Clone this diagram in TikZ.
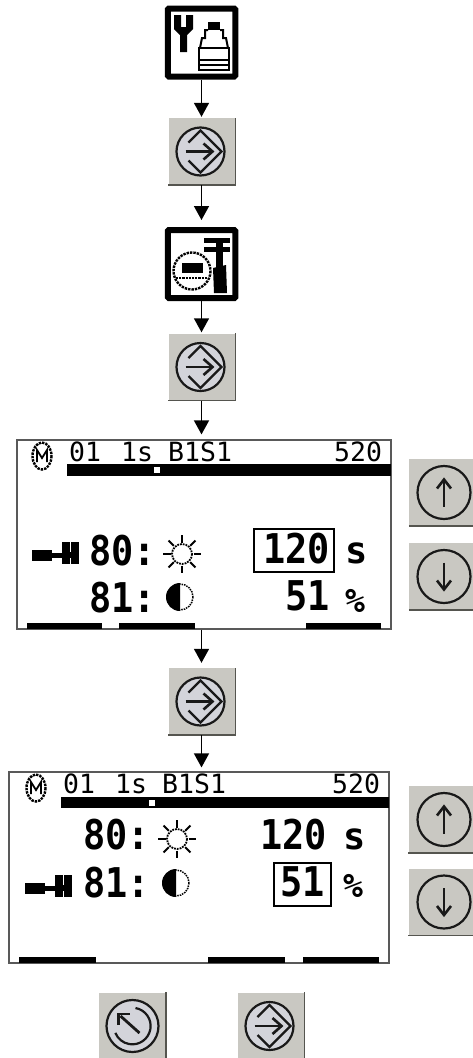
\documentclass[tikz,border=0pt]{standalone}
\usepackage{fontspec}
\setmonofont{DejaVu Sans Mono}
\newfontfamily\bigmono[FakeStretch=0.9]{DejaVu Sans Mono Bold}
\usetikzlibrary{arrows.meta,calc}
\definecolor{btnface}{HTML}{C9C8C2}
\definecolor{btninner}{HTML}{D3D4DA}
\definecolor{btnedge}{HTML}{55554F}
\tikzset{
  x=1pt,y=-1pt,
  conn/.style={line width=1.5pt,-{Triangle[length=14pt,width=15pt]}},
  iconbox/.style={draw=black,line width=6pt,rounded corners=1pt,fill=white,minimum width=67.5pt,minimum height=68pt,inner sep=0pt},
  btnbox/.style={fill=btnface,minimum width=67pt,minimum height=67pt,inner sep=0pt},
  screenbox/.style={draw=black!65,line width=1.2pt,fill=white,inner sep=0pt},
  small/.style={anchor=base west,inner sep=0pt,font=\ttfamily\fontsize{26.5}{26.5}\selectfont},
  big/.style={anchor=base west,inner sep=0pt,font=\bigmono\fontsize{41}{41}\selectfont},
  unitS/.style={anchor=base west,inner sep=0pt,font=\ttfamily\bfseries\fontsize{37}{37}\selectfont},
  unitP/.style={anchor=base west,inner sep=0pt,font=\ttfamily\bfseries\fontsize{33}{33}\selectfont},
  softkey/.style={fill=black},
  glyph/.style={draw=black!90,line width=2.2pt,fill=none},
  valbox/.style={draw=black,line width=1.6pt},
}
\newcommand{\btnshape}[3]{% name, x, y (centre)
  \node[btnbox] (#1) at (#2,#3) {};
  \draw[btnedge,line width=1.5pt] (#1.south west) -- (#1.south east) -- (#1.north east);
}
\newcommand{\enterbtn}[3]{%
  \btnshape{#1}{#2}{#3}
  \begin{scope}[shift={(#2-1.5,#3)}]
    \draw[glyph,fill=btninner] (0,0) circle (24);
    \draw[glyph] (-12,-9) -- (0,-21) -- (21,0) -- (0,21) -- (-12,9);
    \draw[glyph,line width=2.8pt] (-15,0) -- (11,0);
    \draw[glyph,line width=2.6pt] (3,-8) -- (12,0) -- (3,8);
  \end{scope}
}
\newcommand{\backbtn}[3]{%
  \btnshape{#1}{#2}{#3}
  \begin{scope}[shift={(#2,#3)}]
    \draw[glyph,fill=btninner] (0,0) circle (26);
    \draw[glyph] (3,-18) arc[start angle=-80,end angle=158,radius=18.3];
    \draw[glyph,line width=2.8pt] (7,7) -- (-12,-10);
    \draw[glyph,line width=2.6pt] (-14,-1) -- (-14,-12) -- (-3,-12);
  \end{scope}
}
\newcommand{\updownbtn}[5]{% name, x, y, circle x, sign
  \btnshape{#1}{#2}{#3}
  \begin{scope}[shift={(#4,#3)},yscale=#5]
    \draw[glyph,fill=btnface] (0,0) circle (26.5);
    \draw[glyph,line width=2.8pt] (0,14) -- (0,-12);
    \draw[glyph,line width=2.6pt] (-7,-4) -- (0,-13) -- (7,-4);
  \end{scope}
}
\newcommand{\sunicon}[2]{%
  \begin{scope}[shift={(#1,#2)}]
    \draw[line width=1.8pt,densely dotted] (0,0) circle (10);
    \foreach \a in {0,45,...,315} \draw[line width=1.9pt] (\a:11.5) -- (\a:19);
  \end{scope}
}
\newcommand{\moonicon}[2]{%
  \begin{scope}[shift={(#1,#2)}]
    \draw[line width=1.5pt,densely dotted] (0,0) circle (13);
    \fill (0,-14) arc[start angle=-90,end angle=-270,radius=14] -- cycle;
  \end{scope}
}
\newcommand{\probeicon}[2]{%
  \begin{scope}[shift={(#1,#2)}]
    \fill (0,-3) rectangle (20,8);
    \fill (20,0) rectangle (31,5);
    \fill (30,-11) rectangle (38,11);
    \fill (39,-11) rectangle (47,11);
    \fill (37,-1) rectangle (40,5);
  \end{scope}
}
\newcommand{\milkicon}[2]{%
  \begin{scope}[shift={(#1,#2)}]
    \draw[line width=2.4pt,densely dotted] (0,0) ellipse (9.5 and 13.5);
    \draw[line width=1.8pt] (-5,6) -- (-5,-6) -- (0,2) -- (5,-6) -- (5,6);
  \end{scope}
}
\begin{document}
\begin{tikzpicture}
\useasboundingbox (0,0) rectangle (472,1058);

% top icon
\node[iconbox] (icona) at (201.5,42.5) {};
\begin{scope}
  \fill (174,15) -- (181,15) -- (181,27) -- (186,27) -- (186,15) -- (193,15) -- (193,29) -- (187,35) -- (187,52) -- (180,52) -- (180,35) -- (174,29) -- cycle;
  \fill (208,22) rectangle (220,30);
  \draw[line width=2pt] (208,30) -- (205,30) -- (205,38) -- (202,38) -- (200,48);
  \draw[line width=2pt] (220,30) -- (223,30) -- (223,38) -- (226,38) -- (228,48);
  \draw[line width=2pt] (199,48) rectangle (229,70);
  \draw[line width=2pt] (199,60) -- (229,60);
  \draw[line width=2pt] (199,65) -- (229,65);
\end{scope}

\enterbtn{entera}{202}{151.5}

% second icon
\node[iconbox] (iconb) at (201.5,264) {};
\begin{scope}
  \draw[line width=2.4pt,densely dotted] (192,271) circle (18.5);
  \fill (182,263) rectangle (203,272.5);
  \draw[line width=2.2pt,densely dotted] (176,278) -- (208,278);
  \fill (204,238) rectangle (230,243);
  \fill (204,247) rectangle (230,252);
  \fill (216,243) rectangle (223,247);
  \fill (216,252) rectangle (223,268);
  \fill (213,268) -- (226,265) -- (227,293) -- (214,293) -- cycle;
\end{scope}

\enterbtn{enterb}{202}{367}

% first screen
\node[screenbox,minimum width=374pt,minimum height=189pt] (screena) at (204,534.5) {};
\fill (67,464) rectangle (391,476);
\fill[white] (154,467) rectangle (160,473);
\milkicon{42}{456}
\node[small] (a1) at (69,461.5) {01};
\node[small] (a2) at (121,461.5) {1s};
\node[small] (a3) at (168,461.5) {B1S1};
\node[small] (a4) at (334,461.5) {520};
\probeicon{32}{552.5}
\node[big] (a5) at (89,565) {80:};
\sunicon{182}{554}
\node[big] (a6) at (89,612) {81:};
\moonicon{180}{597}
\node[valbox,minimum width=80pt,minimum height=43pt,inner sep=0pt] (a7) at (294,550.5) {};
\node[big] (a8) at (263,563.5) {120};
\node[unitS] (a9) at (345,563) {s};
\node[big] (a10) at (285,610.5) {51};
\node[unitP] (a11) at (345,612) {\%};
\fill[softkey] (27,623) rectangle (102,629);
\fill[softkey] (119,623) rectangle (195,629);
\fill[softkey] (306,623) rectangle (381,629);

\updownbtn{upa}{442.5}{492.5}{444}{1}
\updownbtn{downa}{442.5}{576.5}{444}{-1}

\enterbtn{enterc}{202}{701.5}

% second screen
\node[screenbox,minimum width=380pt,minimum height=191pt] (screenb) at (199,867.5) {};
\fill (61,797) rectangle (389,808);
\fill[white] (149,799.5) rectangle (155,805.5);
\milkicon{36}{788}
\node[small] (b1) at (63,793) {01};
\node[small] (b2) at (115,793) {1s};
\node[small] (b3) at (162,793) {B1S1};
\node[small] (b4) at (332,793) {520};
\node[big] (b5) at (83,849) {80:};
\sunicon{177}{839}
\probeicon{25}{886}
\node[big] (b6) at (83,897) {81:};
\moonicon{176}{883}
\node[big] (b7) at (260,849.5) {120};
\node[unitS] (b8) at (343,849) {s};
\node[valbox,minimum width=57pt,minimum height=43pt,inner sep=0pt] (b9) at (302.5,884.5) {};
\node[big] (b10) at (280,896.5) {51};
\node[unitP] (b11) at (343,897) {\%};
\fill[softkey] (19,957) rectangle (96,963);
\fill[softkey] (208,957) rectangle (285,963);
\fill[softkey] (303,957) rectangle (379,963);

\updownbtn{upb}{442}{819.5}{444}{1}
\updownbtn{downb}{442}{902}{444}{-1}

% bottom buttons
\backbtn{backc}{132.5}{1026}
\enterbtn{enterd}{271}{1026}

% connectors
\draw[conn,shorten >=1pt] (icona.south) -- (entera.north -| icona.south);
\draw[conn,shorten >=7pt] (entera.south -| icona.south) -- (iconb.north -| icona.south);
\draw[conn,shorten >=1pt] (iconb.south) -- (enterb.north -| icona.south);
\draw[conn,shorten >=5pt] (enterb.south -| icona.south) -- (screena.north -| icona.south);
\draw[conn,shorten >=5pt] (screena.south -| icona.south) -- (enterc.north -| icona.south);
\draw[conn,shorten >=4pt] (enterc.south -| icona.south) -- (screenb.north -| icona.south);
\end{tikzpicture}
\end{document}
